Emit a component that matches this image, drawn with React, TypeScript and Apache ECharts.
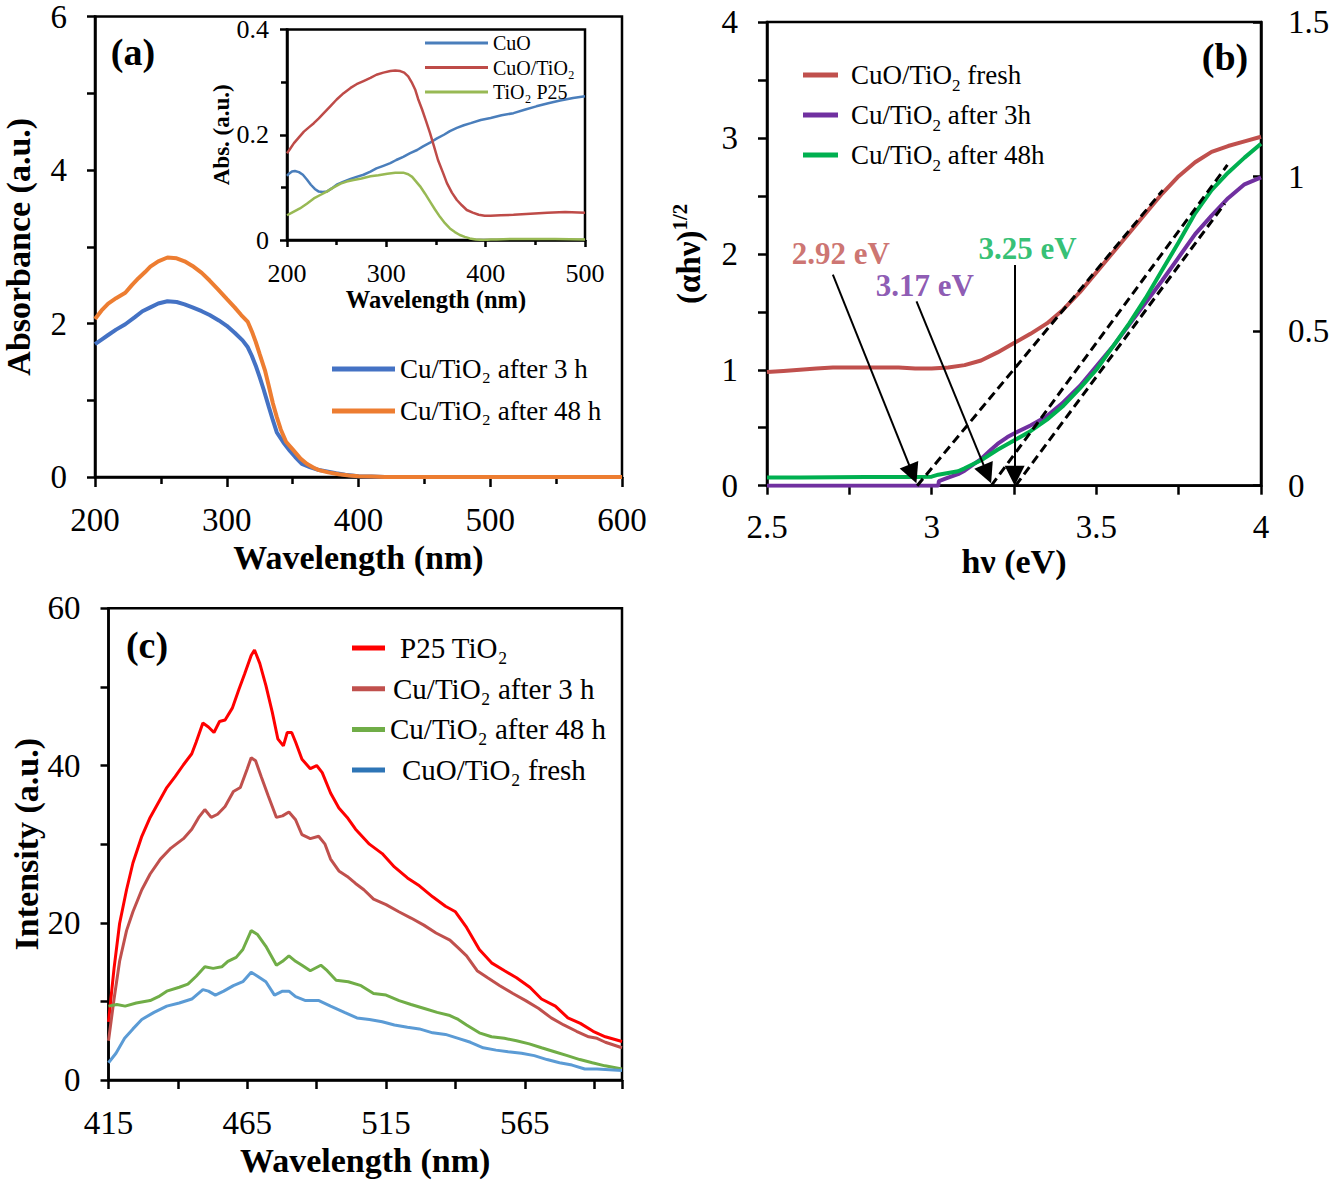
import React, { useEffect, useRef } from 'react';
import * as echarts from 'echarts';

const FONT = '"Liberation Serif", "Times New Roman", Times, serif';

// ---------- Panel (a): UV-vis absorbance ----------
const aX3h = [200, 205, 210, 216, 223, 230, 236, 242, 248, 255, 262, 268, 274, 281, 287, 294, 300, 306, 312, 316, 319, 322, 325, 328, 332, 335, 338, 343, 348, 352, 357, 363, 370, 377, 383, 390, 400, 410, 420, 450, 500, 550, 600];
const aY3h = [1.73, 1.79, 1.85, 1.92, 1.99, 2.08, 2.16, 2.21, 2.26, 2.29, 2.28, 2.25, 2.21, 2.16, 2.11, 2.04, 1.97, 1.88, 1.78, 1.69, 1.58, 1.45, 1.30, 1.14, 0.91, 0.74, 0.58, 0.45, 0.34, 0.26, 0.17, 0.13, 0.09, 0.07, 0.05, 0.03, 0.01, 0.005, 0, 0, 0, 0, 0];
const aX48h = [200, 205, 210, 216, 223, 228, 233, 238, 242, 248, 255, 262, 268, 274, 281, 287, 293, 300, 306, 311, 316, 319, 322, 325, 329, 332, 335, 338, 341, 345, 351, 356, 361, 366, 370, 377, 385, 393, 400, 410, 420, 450, 500, 550, 600];
const aY48h = [2.06, 2.17, 2.26, 2.33, 2.40, 2.50, 2.59, 2.67, 2.74, 2.81, 2.86, 2.85, 2.81, 2.75, 2.66, 2.56, 2.45, 2.32, 2.21, 2.11, 2.02, 1.90, 1.76, 1.60, 1.39, 1.18, 0.96, 0.78, 0.62, 0.46, 0.34, 0.24, 0.17, 0.12, 0.09, 0.06, 0.035, 0.02, 0.01, 0.005, 0, 0, 0, 0, 0];

// ---------- Inset of (a) ----------
const iXCuOTi = [200, 202, 207, 212, 217, 222, 227, 232, 237, 244, 250, 257, 264, 270, 277, 284, 290, 297, 304, 309, 314, 318, 322, 326, 329, 332, 336, 340, 344, 348, 352, 357, 361, 366, 371, 376, 381, 387, 393, 399, 405, 415, 428, 445, 462, 480, 500];
const iYCuOTi = [0.165, 0.170, 0.184, 0.195, 0.206, 0.214, 0.222, 0.231, 0.241, 0.255, 0.267, 0.279, 0.289, 0.296, 0.302, 0.308, 0.314, 0.318, 0.321, 0.322, 0.321, 0.318, 0.311, 0.298, 0.286, 0.268, 0.248, 0.226, 0.203, 0.178, 0.152, 0.128, 0.108, 0.090, 0.076, 0.066, 0.057, 0.052, 0.048, 0.046, 0.046, 0.047, 0.048, 0.050, 0.052, 0.053, 0.052];
const iXCuO = [200, 202, 205, 208, 212, 216, 220, 224, 228, 232, 236, 240, 245, 250, 257, 264, 270, 277, 284, 290, 297, 304, 310, 317, 324, 331, 337, 344, 351, 358, 364, 371, 378, 385, 395, 405, 416, 428, 440, 451, 463, 475, 488, 500];
const iYCuO = [0.122, 0.126, 0.130, 0.131, 0.129, 0.124, 0.115, 0.105, 0.097, 0.092, 0.091, 0.092, 0.098, 0.105, 0.111, 0.116, 0.120, 0.124, 0.130, 0.136, 0.141, 0.146, 0.152, 0.158, 0.165, 0.171, 0.178, 0.185, 0.193, 0.200, 0.207, 0.213, 0.218, 0.222, 0.228, 0.232, 0.237, 0.241, 0.248, 0.254, 0.260, 0.265, 0.270, 0.273];
const iXP25 = [200, 205, 213, 220, 227, 233, 240, 247, 254, 260, 267, 275, 284, 292, 301, 309, 317, 322, 326, 330, 334, 339, 344, 349, 354, 359, 364, 369, 374, 379, 384, 390, 398, 405, 411, 425, 445, 470, 500];
const iYP25 = [0.047, 0.052, 0.060, 0.069, 0.079, 0.085, 0.092, 0.100, 0.107, 0.111, 0.114, 0.117, 0.121, 0.123, 0.126, 0.128, 0.128, 0.125, 0.120, 0.111, 0.102, 0.088, 0.073, 0.058, 0.044, 0.032, 0.022, 0.015, 0.0095, 0.006, 0.003, 0.001, 0, 0.001, 0.001, 0.002, 0.002, 0.002, 0.001];

// ---------- Panel (b): Tauc plot ----------
const bXFresh = [2.5, 2.55, 2.6, 2.65, 2.7, 2.75, 2.8, 2.85, 2.9, 2.95, 3.0, 3.05, 3.1, 3.15, 3.2, 3.25, 3.3, 3.35, 3.4, 3.45, 3.5, 3.55, 3.6, 3.65, 3.7, 3.75, 3.8, 3.85, 3.9, 3.95, 4.0];
const bYFresh = [0.98, 0.99, 1.00, 1.01, 1.02, 1.02, 1.02, 1.02, 1.02, 1.01, 1.01, 1.02, 1.04, 1.08, 1.15, 1.23, 1.31, 1.40, 1.52, 1.67, 1.84, 2.01, 2.18, 2.35, 2.52, 2.67, 2.79, 2.88, 2.93, 2.97, 3.01];
const bX3h = [2.5, 2.6, 2.7, 2.8, 2.9, 3.0, 3.02, 3.022, 3.05, 3.08, 3.1, 3.13, 3.15, 3.18, 3.2, 3.23, 3.25, 3.3, 3.35, 3.4, 3.45, 3.5, 3.55, 3.6, 3.65, 3.7, 3.75, 3.8, 3.85, 3.9, 3.95, 4.0];
const bY3h = [0, 0, 0, 0, 0, 0, 0, 0.04, 0.07, 0.10, 0.13, 0.19, 0.23, 0.31, 0.36, 0.42, 0.45, 0.52, 0.60, 0.72, 0.86, 1.03, 1.20, 1.39, 1.58, 1.77, 1.97, 2.17, 2.33, 2.48, 2.60, 2.66];
const bX48h = [2.5, 2.6, 2.7, 2.8, 2.9, 2.95, 3.0, 3.02, 3.05, 3.08, 3.1, 3.15, 3.2, 3.25, 3.3, 3.35, 3.4, 3.45, 3.5, 3.55, 3.6, 3.65, 3.7, 3.75, 3.8, 3.85, 3.9, 3.95, 4.0];
const bY48h = [0.07, 0.07, 0.072, 0.074, 0.075, 0.076, 0.078, 0.095, 0.11, 0.125, 0.15, 0.22, 0.31, 0.39, 0.47, 0.57, 0.69, 0.84, 1.00, 1.20, 1.40, 1.62, 1.86, 2.10, 2.35, 2.55, 2.70, 2.83, 2.95];
// tangent (extrapolation) lines: [x0, y0, x1, y1]
const bTangents = [
  [2.956, 0, 3.702, 2.55],
  [3.181, 0, 3.898, 2.767],
  [3.255, 0, 3.89, 2.434],
];
// annotation arrows: [xStart, yStart, xEnd, yEnd]
const bArrows = [
  [2.70, 1.82, 2.9424, 0.101],
  [2.954, 1.59, 3.169, 0.100],
  [3.252, 1.904, 3.252, 0.086],
];
const bGapLabels = ['2.92 eV', '3.17 eV', '3.25 eV'];
const bGapLabelPos = [[2.724, 2.0], [2.979, 1.73], [3.291, 2.047]];
const bGapColors = ['#C0504D', '#7030A0', '#00B050'];

// ---------- Panel (c): PL spectra ----------
const cXP25 = [415, 417, 419, 421.5, 423.8, 427, 430, 433, 436, 439, 442, 445, 446.6, 449, 451, 453, 455, 457, 459.6, 462, 464, 466.4, 467.6, 469.5, 471.7, 474, 476, 478, 479.4, 481, 482.4, 484.7, 487.7, 490, 492, 495, 498, 501, 504, 509, 513.6, 518, 522.7, 527, 531.8, 536.4, 540, 544, 548.6, 553, 557.7, 562, 566.8, 571, 576, 580.5, 585, 589.6, 594, 600];
const cYP25 = [7.4, 14.2, 19.9, 24.2, 27.6, 31, 33.4, 35.3, 37.2, 38.6, 40.1, 41.5, 43, 45.4, 44.9, 44.2, 45.6, 45.8, 47.3, 49.7, 51.6, 54, 54.7, 53, 50.2, 46.8, 43.4, 42.5, 44.2, 44.2, 43, 40.8, 39.6, 40, 39.1, 36.5, 34.6, 33.4, 31.9, 30, 28.8, 27.1, 25.7, 24.7, 23.3, 22.1, 21.4, 19.4, 16.6, 14.9, 13.9, 13, 11.8, 10.3, 9.4, 7.9, 7.2, 6.2, 5.5, 4.9];
const cX3h = [415, 417, 419, 421.5, 423.8, 427, 430, 433.7, 437.5, 442, 445, 447.5, 449.7, 452, 454.3, 457, 460, 462.5, 465, 466.4, 468, 470, 472.5, 475.5, 477.7, 480, 482.4, 484.7, 487.7, 490.7, 493, 495, 498, 501, 504, 507, 510.5, 515, 519.6, 524, 528.6, 533, 538, 541, 544, 547.8, 551.6, 556, 560.7, 565.3, 570, 574.5, 579, 583.6, 588, 591, 594, 600];
const cY3h = [5, 10.3, 15.1, 19, 21.4, 24.2, 26.2, 28.1, 29.5, 30.7, 31.9, 33.4, 34.4, 33.4, 33.8, 34.8, 36.7, 37.2, 39.6, 41, 40.6, 38.6, 36.2, 33.4, 33.6, 34.1, 33.1, 31.2, 30.7, 31, 30, 28.1, 26.6, 25.9, 25, 24.2, 23, 22.3, 21.4, 20.6, 19.7, 18.7, 17.8, 16.8, 15.8, 13.9, 13, 12, 11, 10.1, 9.1, 7.9, 7, 6.2, 5.5, 5.3, 4.8, 4.1];
const cX48h = [415, 418, 421, 425, 430, 433, 436, 440.5, 443.6, 446.6, 449.7, 452.7, 455.8, 458, 461, 463.4, 466.4, 468.7, 471.7, 475.5, 477.7, 480, 482.4, 484.7, 487.7, 491.5, 493.8, 497, 501.4, 506, 510.5, 515, 519.7, 524, 528.8, 533.4, 538, 541, 544, 548.6, 553, 557.6, 562, 566.6, 571, 575.7, 580.3, 584.8, 589.3, 593.9, 600];
const cY48h = [9.4, 9.6, 9.4, 9.8, 10.1, 10.6, 11.3, 11.8, 12.2, 13.2, 14.4, 14.2, 14.4, 15.1, 15.6, 16.6, 19, 18.5, 17, 14.6, 15.1, 15.8, 15.1, 14.6, 13.9, 14.6, 13.9, 12.7, 12.5, 12, 11, 10.8, 10.1, 9.6, 9.1, 8.6, 8.2, 7.7, 7, 6, 5.5, 5.3, 5, 4.6, 4.1, 3.6, 3.1, 2.6, 2.2, 1.8, 1.4];
const cXFresh = [415, 417.7, 420.8, 423.8, 427, 431.4, 436, 440.5, 445, 449, 451, 453.5, 456.5, 460, 463.4, 466.4, 468.7, 471.7, 474.8, 477.7, 480, 482.4, 486, 490.8, 495, 500, 504.5, 509, 513.6, 518, 522.7, 527, 531.8, 536.4, 541, 545.4, 550, 554.6, 559, 563.8, 568.4, 573, 577.5, 582, 586.6, 591, 600];
const cYFresh = [2.2, 3.4, 5.3, 6.5, 7.7, 8.6, 9.4, 9.8, 10.3, 11.5, 11.3, 10.8, 11.3, 12, 12.5, 13.7, 13.2, 12.5, 10.8, 11.3, 11.3, 10.6, 10.1, 10.1, 9.4, 8.6, 7.9, 7.7, 7.4, 7, 6.7, 6.5, 6, 5.8, 5.3, 4.8, 4.1, 3.8, 3.6, 3.4, 3.1, 2.6, 2.2, 1.9, 1.4, 1.4, 1.2];
const cXStart = 415; // first tick of the PL wavelength axis

const zip = (xs: number[], ys: number[]) => xs.map((x, i) => [x, ys[i]]);
const zipShift = (xs: number[], ys: number[], s: number) => xs.map((x, i) => [x - s, ys[i]]);

const black = '#000';
const lblStyle = (size: number, margin: number) => ({ fontSize: size, fontFamily: FONT, color: black, margin });
const nameStyle = (size: number) => ({ fontSize: size, fontWeight: 'bold', fontFamily: FONT, color: black });
const axLine = { show: true, lineStyle: { color: black, width: 2.5 } };
const tick = (len: number, inside = false) => ({ show: true, length: len, inside, lineStyle: { color: black, width: 2.5 } });
const minor = (len: number) => ({ show: true, splitNumber: 2, length: len, lineStyle: { color: black, width: 2.5 } });
const gridBox = { show: true, borderColor: black, borderWidth: 2.5, backgroundColor: 'transparent' };

function lineSeries(name: string, data: number[][], color: string, width: number, xi: number, yi: number) {
  return {
    type: 'line', name, data, xAxisIndex: xi, yAxisIndex: yi,
    showSymbol: false, symbol: 'none', smooth: false,
    lineStyle: { color, width }, itemStyle: { color },
    z: 2, silent: true,
  };
}

const pclNames: Record<string, string> = {
  'PL P25': '{a|}{t|P25 TiO₂}',
  'PL 3h': '{b|}{t|Cu/TiO₂ after 3 h}',
  'PL 48h': '{t|Cu/TiO₂ after 48 h}',
  'PL fresh': '{c|}{t|CuO/TiO₂ fresh}',
};

function buildOption() {
  const series: any[] = [];
  // (a)
  series.push(lineSeries('Cu/TiO₂ after 3 h', zip(aX3h, aY3h), '#4472C4', 4, 0, 0));
  series.push(lineSeries('Cu/TiO₂ after 48 h', zip(aX48h, aY48h), '#ED7D31', 4, 0, 0));
  // inset
  series.push(lineSeries('CuO', zip(iXCuO, iYCuO), '#4A7EBB', 2.5, 1, 1));
  series.push(lineSeries('CuO/TiO₂', zip(iXCuOTi, iYCuOTi), '#BE4B48', 2.5, 1, 1));
  series.push(lineSeries('TiO₂ P25', zip(iXP25, iYP25), '#98B954', 2.5, 1, 1));
  // (b)
  series.push(lineSeries('CuO/TiO2 fresh', zip(bXFresh, bYFresh), '#C0504D', 4, 2, 2));
  series.push(lineSeries('Cu/TiO2 after 3h', zip(bX3h, bY3h), '#7030A0', 4, 2, 2));
  series.push(lineSeries('Cu/TiO2 after 48h', zip(bX48h, bY48h), '#00B050', 4, 2, 2));
  bTangents.forEach((t, i) => {
    series.push({
      type: 'line', name: 'tangent' + i, xAxisIndex: 2, yAxisIndex: 2,
      data: [[t[0], t[1]], [t[2], t[3]]], showSymbol: false, symbol: 'none',
      lineStyle: { color: black, width: 3, type: [9, 5] }, z: 5, silent: true,
    });
  });
  series.push({
    type: 'lines', coordinateSystem: 'cartesian2d', xAxisIndex: 2, yAxisIndex: 2,
    symbol: ['none', 'triangle'], symbolSize: 20,
    lineStyle: { color: black, width: 2, opacity: 1 }, itemStyle: { color: black },
    data: bArrows.map((a) => ({ coords: [[a[0], a[1]], [a[2], a[3]]] })),
    z: 6, silent: true,
  });
  bGapLabels.forEach((txt, i) => {
    series.push({
      type: 'scatter', name: 'gap' + i, xAxisIndex: 2, yAxisIndex: 2,
      data: [bGapLabelPos[i]], symbolSize: 0, silent: true, z: 7,
      label: {
        show: true, position: 'inside', formatter: txt,
        fontSize: 31, fontWeight: 'bold', fontFamily: FONT, color: bGapColors[i],
      },
    });
  });
  // (c)
  series.push(lineSeries('PL P25', zipShift(cXP25, cYP25, cXStart), '#FF0000', 3, 3, 4));
  series.push(lineSeries('PL 3h', zipShift(cX3h, cY3h, cXStart), '#C0504D', 3, 3, 4));
  series.push(lineSeries('PL 48h', zipShift(cX48h, cY48h, cXStart), '#70AD47', 3, 3, 4));
  series.push(lineSeries('PL fresh', zipShift(cXFresh, cYFresh, cXStart), '#5B9BD5', 3, 3, 4));

  const subRich = {
    sp: { width: 8 },
    m: { fontSize: 27, lineHeight: 38, fontFamily: FONT, color: black },
    s: { fontSize: 17, lineHeight: 17, verticalAlign: 'bottom', fontFamily: FONT, color: black },
  };

  return {
    animation: false,
    backgroundColor: '#fff',
    textStyle: { fontFamily: FONT },
    grid: [
      { left: 95, top: 15, width: 527, height: 462, ...gridBox },
      { left: 287, top: 29.5, width: 298, height: 210.5, ...gridBox },
      { left: 767, top: 22, width: 494, height: 463.7, ...gridBox },
      { left: 108.5, top: 608.3, width: 513.5, height: 471.7, ...gridBox },
    ],
    xAxis: [
      {
        gridIndex: 0, type: 'value', min: 200, max: 600, interval: 100,
        axisLine: axLine, axisTick: tick(10), minorTick: minor(7), splitLine: { show: false },
        axisLabel: lblStyle(33, 26),
        name: 'Wavelength (nm)', nameLocation: 'middle', nameGap: 63, nameTextStyle: nameStyle(34),
      },
      {
        gridIndex: 1, type: 'value', min: 200, max: 500, interval: 100,
        axisLine: axLine, axisTick: tick(7), minorTick: minor(5), splitLine: { show: false },
        axisLabel: lblStyle(26, 20),
        name: 'Wavelength (nm)', nameLocation: 'middle', nameGap: 44, nameTextStyle: nameStyle(24.5),
      },
      {
        gridIndex: 2, type: 'value', min: 2.5, max: 4, interval: 0.5,
        axisLine: axLine, axisTick: tick(9), minorTick: minor(9), splitLine: { show: false },
        axisLabel: lblStyle(33, 25),
        name: 'hν (eV)', nameLocation: 'middle', nameGap: 54, nameTextStyle: nameStyle(34),
      },
      {
        gridIndex: 3, type: 'value', min: 0, max: 600 - cXStart, interval: 25,
        axisLine: axLine, axisTick: tick(9), splitLine: { show: false },
        axisLabel: {
          ...lblStyle(33, 26),
          formatter: (v: number) => (v % 50 === 0 ? String(v + cXStart) : ''),
        },
        name: 'Wavelength (nm)', nameLocation: 'middle', nameGap: 63, nameTextStyle: nameStyle(34),
      },
    ],
    yAxis: [
      {
        gridIndex: 0, type: 'value', min: 0, max: 6, interval: 2,
        axisLine: axLine, axisTick: tick(8), minorTick: minor(8), splitLine: { show: false },
        axisLabel: lblStyle(33, 28),
        name: 'Absorbance (a.u.)', nameLocation: 'middle', nameGap: 60, nameRotate: 90, nameTextStyle: nameStyle(34),
      },
      {
        gridIndex: 1, type: 'value', min: 0, max: 0.4, interval: 0.2,
        axisLine: axLine, axisTick: tick(7), minorTick: minor(6), splitLine: { show: false },
        axisLabel: lblStyle(26, 18),
        name: 'Abs. (a.u.)', nameLocation: 'middle', nameGap: 54, nameRotate: 90, nameTextStyle: nameStyle(23),
      },
      {
        gridIndex: 2, type: 'value', min: 0, max: 4, interval: 1,
        axisLine: axLine, axisTick: tick(9), minorTick: minor(9), splitLine: { show: false },
        axisLabel: lblStyle(33, 29),
        name: '{m|(αhν)}{s|1/2}', nameLocation: 'middle', nameGap: 58, nameRotate: 90,
        nameTextStyle: {
          ...nameStyle(33),
          rich: {
            m: { fontSize: 33, fontWeight: 'bold', fontFamily: FONT, color: black, lineHeight: 40 },
            s: { fontSize: 21, fontWeight: 'bold', fontFamily: FONT, color: black, lineHeight: 21, verticalAlign: 'top' },
          },
        },
      },
      {
        gridIndex: 2, type: 'value', position: 'right', min: 0, max: 1.5, interval: 0.5,
        axisLine: axLine, axisTick: tick(8, true), splitLine: { show: false },
        axisLabel: lblStyle(33, 27),
      },
      {
        gridIndex: 3, type: 'value', min: 0, max: 60, interval: 20,
        axisLine: axLine, axisTick: tick(8), minorTick: minor(8), splitLine: { show: false },
        axisLabel: lblStyle(33, 28),
        name: 'Intensity (a.u.)', nameLocation: 'middle', nameGap: 60, nameRotate: 90, nameTextStyle: nameStyle(34),
      },
    ],
    legend: [
      {
        data: ['Cu/TiO₂ after 3 h', 'Cu/TiO₂ after 48 h'], left: 327, top: 347, orient: 'vertical', align: 'left',
        icon: 'rect', itemWidth: 63, itemHeight: 5, itemGap: 8, selectedMode: false,
        textStyle: { fontSize: 27, lineHeight: 34, fontFamily: FONT, color: black },
      },
      {
        data: ['CuO', 'CuO/TiO₂', 'TiO₂ P25'], left: 420, top: 27, orient: 'vertical', align: 'left',
        icon: 'rect', itemWidth: 63, itemHeight: 3, itemGap: 2.5, selectedMode: false,
        textStyle: { fontSize: 20, lineHeight: 22, fontFamily: FONT, color: black },
      },
      {
        data: ['CuO/TiO2 fresh', 'Cu/TiO2 after 3h', 'Cu/TiO2 after 48h'], left: 798, top: 51, orient: 'vertical', align: 'left',
        icon: 'rect', itemWidth: 35, itemHeight: 5, itemGap: 2, selectedMode: false,
        formatter: (name: string) => {
          const idx = name.indexOf('TiO2');
          const before = name.slice(0, idx + 3);
          const after = name.slice(idx + 4);
          return `{sp|}{m|${before}}{s|2}{m|${after}}`;
        },
        textStyle: { fontSize: 27, lineHeight: 38, fontFamily: FONT, color: black, rich: subRich },
      },
      {
        data: ['PL P25', 'PL 3h', 'PL 48h', { name: 'PL fresh', itemStyle: { color: '#2E75B6' } }],
        left: 347, top: 626, orient: 'vertical', align: 'left',
        icon: 'rect', itemWidth: 33, itemHeight: 5, itemGap: 6.7, selectedMode: false,
        formatter: (name: string) => pclNames[name],
        textStyle: {
          fontSize: 29, lineHeight: 34, fontFamily: FONT, color: black,
          rich: {
            a: { width: 10 }, b: { width: 3 }, c: { width: 12 },
            t: { fontSize: 29, lineHeight: 34, fontFamily: FONT, color: black },
          },
        },
      },
    ],
    graphic: [
      { type: 'text', x: 133, y: 52, style: { text: '(a)', fontSize: 38, fontWeight: 'bold', fontFamily: FONT, fill: black, textAlign: 'center', textVerticalAlign: 'middle' } },
      { type: 'text', x: 1225, y: 57, style: { text: '(b)', fontSize: 38, fontWeight: 'bold', fontFamily: FONT, fill: black, textAlign: 'center', textVerticalAlign: 'middle' } },
      { type: 'text', x: 147, y: 645, style: { text: '(c)', fontSize: 38, fontWeight: 'bold', fontFamily: FONT, fill: black, textAlign: 'center', textVerticalAlign: 'middle' } },
    ],
    series,
  };
}

export default function App() {
  const ref = useRef<HTMLDivElement>(null);
  useEffect(() => {
    document.body.style.margin = '0';
    if (!ref.current) return;
    const chart = echarts.init(ref.current, null, { renderer: 'svg' });
    chart.setOption(buildOption() as any);
    return () => chart.dispose();
  }, []);
  return <div ref={ref} style={{ width: 1335, height: 1183, background: '#fff' }} />;
}
